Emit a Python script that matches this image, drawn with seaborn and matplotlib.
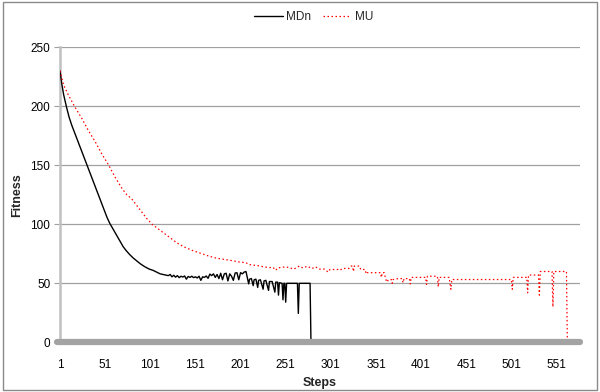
import matplotlib
matplotlib.use("Agg")
import matplotlib.pyplot as plt
import seaborn as sns
import pandas as pd
from matplotlib.patches import Rectangle

# ---- data ----
mdn_steps = [1, 3, 5, 8, 11, 14, 17, 20, 23, 26, 29, 32, 35, 38, 41, 44, 47, 50, 53, 56,
             59, 62, 65, 68, 71, 74, 78, 82, 86, 90, 95, 100, 104, 108, 112, 115, 118, 121, 123, 125,
             127, 129, 131, 133, 135, 137, 139, 141, 143, 145, 147, 149, 151, 153, 155, 157, 159, 161,
             163, 165, 167, 169, 171, 173, 175, 177, 179, 181, 183, 185, 187, 189, 191, 193,
             195, 197, 199, 201, 203, 205, 207, 210, 211, 213, 215, 216, 218, 220, 221, 223,
             226, 227, 229, 232, 233, 236, 239, 240, 242, 243, 244, 247, 248, 249, 250, 251,
             252, 264, 265, 266, 278, 279]
mdn_values = [230, 219, 210, 200, 191, 184, 178, 172, 166, 160, 154, 148, 142, 136, 130, 124, 118, 112, 106, 101,
              97, 93, 89, 85, 81, 78, 74.5, 71.5, 69, 66.5, 64, 62, 61, 59.5, 58, 57.5, 57, 56.5, 57.5, 55.5,
              56.8, 55.2, 56.5, 54.8, 56, 55.3, 56.2, 53.5, 55.8, 55, 56, 54.8, 55.5, 54.5, 56, 52.5, 55.5, 55,
              56.2, 54.2, 57.8, 56.5, 58, 55, 57.5, 54, 58.5, 53, 58, 58.5, 52, 58, 56, 52.5,
              58.7, 59, 53, 59, 58, 59.5, 60, 49.5, 53.5, 54, 48, 53, 53.5, 46.5, 52.5, 53,
              45, 52, 52.5, 44, 51.5, 51.5, 42.5, 51, 51, 40, 50.5, 50, 36, 50, 50, 34,
              50, 50, 24.5, 50, 50, 0]

mu_steps = [1, 5, 10, 17, 25, 32, 40, 47, 55, 62, 70, 75, 80, 84, 90, 97, 103, 110, 117, 124,
            131, 138, 147, 157, 166, 175, 185, 194, 200, 207, 210, 214, 220, 226, 233, 237, 240, 242,
            251, 256, 260, 266, 270, 275, 280, 284, 288, 294, 298, 300, 309, 311, 314, 321, 323,
            325, 326, 327, 333, 334, 339, 340, 341, 356, 357, 358, 360, 362, 363, 365, 368, 369,
            370, 376, 380, 381, 382, 388, 389, 390, 406, 407, 408, 419, 420, 421, 432, 434, 435,
            501, 502, 503, 518, 519, 520, 531, 532, 533, 546, 547, 548, 562, 563]
mu_values = [230, 218, 210, 200, 190, 180, 170, 160, 150, 140, 130, 125, 122, 118, 112, 105, 100, 96, 92, 88,
             84, 81, 78, 75.4, 73, 71.2, 70, 68.9, 68, 67.5, 66, 65.5, 65, 64, 63.3, 63.5, 61, 63,
             64, 63, 62, 64.6, 63, 64.5, 62.5, 64, 62, 62, 59.5, 61.7, 61.7, 61, 62.6, 62.6, 64.6,
             64.6, 60, 64.6, 64.6, 61.7, 61.7, 58, 59, 59, 55, 59, 59, 53.2, 51, 53.2, 53.2, 50,
             53.2, 54, 54, 50.5, 54, 54, 49.5, 55, 55, 49, 56, 56, 47, 55, 55, 45, 53.2,
             53.2, 45, 55, 55, 42, 57, 57, 40, 60, 60, 30, 60, 60, 0]

series_names = ["MDn", "MU"]
x_ticks = [1, 51, 101, 151, 201, 251, 301, 351, 401, 451, 501, 551]
y_ticks = [0, 50, 100, 150, 200, 250]

df_mdn = pd.DataFrame({"Steps": mdn_steps, "Fitness": mdn_values})
df_mu = pd.DataFrame({"Steps": mu_steps, "Fitness": mu_values})

# ---- styling ----
sns.set_theme(style="white")
plt.rcParams['font.family'] = ['Liberation Sans', 'DejaVu Sans']

fig = plt.figure(figsize=(6, 3.92), dpi=100)
ax = fig.add_axes([60 / 600, 1 - 342.3 / 392, 520 / 600, 295 / 392])

sns.lineplot(data=df_mdn, x="Steps", y="Fitness", ax=ax, color="black", lw=1.0,
             sort=False, estimator=None, label=series_names[0], zorder=3)
sns.lineplot(data=df_mu, x="Steps", y="Fitness", ax=ax, color="#ff0000", lw=0.9,
             linestyle=(0, (1.2, 2.0)), sort=False, estimator=None, label=series_names[1], zorder=3)

ax.set_xlim(1, 577)
ax.set_ylim(0, 250)
ax.set_xticks(x_ticks)
ax.set_yticks(y_ticks)
ax.yaxis.grid(True, color="#a0a0a0", lw=0.9)
ax.xaxis.grid(False)
for s in ["top", "right", "bottom"]:
    ax.spines[s].set_visible(False)
ax.spines["left"].set_color("#c0c0c0")
ax.spines["left"].set_linewidth(1.8)
ax.tick_params(axis="y", length=4, width=0.8, color="#a0a0a0", labelsize=8.5, pad=3,
               labelcolor="black", left=True)
ax.tick_params(axis="x", length=0, labelsize=8.5, pad=12, labelcolor="black")

# thick category-axis band at zero
ax.axhline(0, xmin=-0.006, xmax=1.0, color="#a3a3a3", lw=4.5, zorder=5, clip_on=False)

ax.set_xlabel("Steps", fontsize=9, fontweight="bold", labelpad=4)
ax.set_ylabel("Fitness", fontsize=9, fontweight="bold", labelpad=5)

leg = ax.legend(loc="center", bbox_to_anchor=(0.523, 0.957), bbox_transform=fig.transFigure,
                ncol=2, frameon=False, fontsize=8.5, handlelength=2.4, handletextpad=0.3,
                columnspacing=1.0)

fig.patches.append(Rectangle((3 / 600, 2 / 392), 594 / 600, 388 / 392, transform=fig.transFigure,
                             fill=False, edgecolor="#8a8a8a", lw=1.0))

fig.savefig("out.png", dpi=100)
